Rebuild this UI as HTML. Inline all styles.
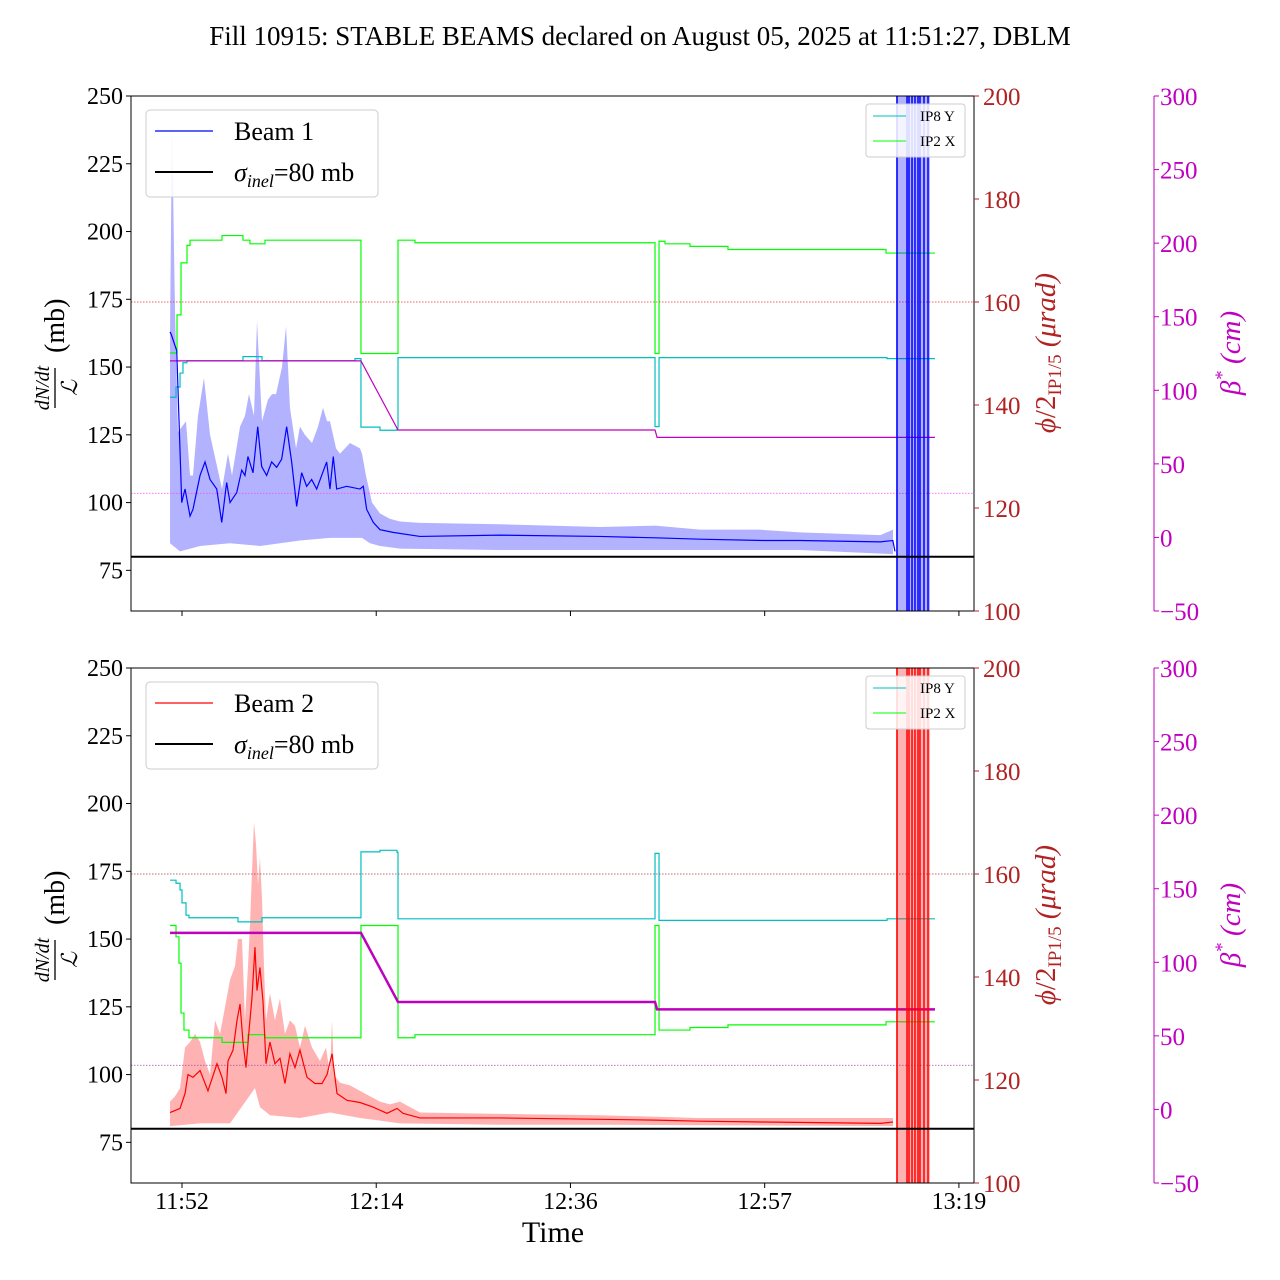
<!DOCTYPE html>
<html><head><meta charset="utf-8">
<style>
html,body{margin:0;padding:0;background:#fff;}
svg{display:block;font-family:"Liberation Serif",serif;}
</style></head>
<body>
<svg id="chart" width="1280" height="1280" viewBox="0 0 1280 1280" xmlns="http://www.w3.org/2000/svg">
<text x="640" y="45" text-anchor="middle" font-size="27">Fill 10915: STABLE BEAMS declared on August 05, 2025 at 11:51:27, DBLM</text>
</svg>
<script>
// ---------- data ----------
const tickMinutes=[0,21.75,43.5,65.25,87];
const tickLabels=["11:52","12:14","12:36","12:57","13:19"];
const leftTicks=[75,100,125,150,175,200,225,250];
const redTicks=[100,120,140,160,180,200];
const magTicks=[-50,0,50,100,150,200,250,300];
const sigmaInel=80;
const refAngle=160;
const refBeta=30;
const dumpStart=79.96, dumpEnd=83.76;
const dumpLines=[80.07,81.19,81.41,81.75,82.08,82.42,82.64,83.09,83.54];

const b1T=[-1.34,-1.2,-0.59,-0.03,0.34,0.9,1.23,2.02,2.58,3.14,3.89,4.45,5.0,5.38,6.13,6.69,7.05,7.39,7.95,8.48,8.92,9.48,10.04,10.6,11.16,11.72,12.28,12.84,13.4,13.96,14.52,15.08,15.64,16.2,16.57,16.94,17.32,18.44,19.93,20.3,20.68,21.42,22.17,23.63,26.65,35.6,46.8,53,58,65.2,69.2,78.2,79.6,79.84];
const b1V=[163,162,156,100,105,95,97.5,110,115,108.5,105,92.7,107.4,100,103.7,112,110,117,111,128,113.3,110,115,113,116,128,115,98.6,111,106,108.5,105,110,115,105,117,105,106,105,106,97.5,92.7,90,89,87.5,88,87.5,87,86.5,86,86,85.5,86,82];
const b1UpT=[-1.34,-1.12,-0.78,-0.45,0,0.45,0.9,1.23,1.79,2.46,3.14,3.81,4.48,5.15,5.6,6.5,7.05,7.5,8.06,8.4,8.96,9.63,10.08,10.53,11.2,11.65,12.09,12.77,13.21,13.77,14.56,15.23,15.79,16.24,16.57,17.25,17.69,18.81,19.93,20.16,20.6,21.28,22.17,23.29,24.41,26.65,35.6,46.8,53,58,64.7,69.2,78.2,79.62];
const b1UpV=[163,240,170,126,128,130,110,110,132,146,125,115,105,118,110,128,132,140,132,167,130,138,140,140,150,165,135,120,128,125,122,128,135,130,130,120,118,122,120,118,110,100,96,94,93,92.5,92,91,91.5,90,90,89,88,90];
const b1LoT=[-1.34,-0.22,2.02,5.38,8.73,13.21,16.57,20.16,21.05,22.17,24.41,35.6,46.8,58,69.2,79.62];
const b1LoV=[85,82,84,85,84,86,87,87,85,84,83,82.5,82.5,82.5,82.5,81];

const b2T=[-1.34,-0.22,0.34,0.67,1.23,2.02,2.91,3.92,4.48,4.93,5.15,5.71,6.16,6.5,6.83,7.17,7.5,7.84,8.17,8.4,8.73,9.07,9.41,9.85,10.41,10.97,11.53,12.09,12.65,13.21,14.0,14.89,15.68,16.24,16.8,17.36,18.48,19.93,21.39,22.96,24.08,24.75,26.65,35.6,46.8,53,58,65.2,78.2,79.62];
const b2V=[86,87.5,93,100,99,101.5,94,104,99,93,105,109,120,126,112,102.6,116,128.5,147,131,139.5,127,104,112,104,106,96.7,107.7,102.6,109,99,96.7,96.7,100,107.7,93,90.5,89.7,88,85.7,87.5,85.7,84,84,83.5,83.2,82.8,82.5,82,82.5];
const b2UpT=[-1.34,-0.78,-0.22,0.34,0.9,1.46,2.02,2.58,3.14,3.7,4.26,4.82,5.38,5.94,6.27,6.72,7.05,7.39,7.61,7.84,8.06,8.29,8.51,8.73,8.96,9.18,9.41,9.85,10.41,10.97,11.53,12.09,12.65,13.21,13.77,14.56,15.45,16.13,16.57,16.8,17.02,17.69,18.81,19.93,21.05,22.17,23.29,24.41,25.53,26.65,35.6,46.8,58,69.2,79.62];
const b2UpV=[90,92,95,110,112,115,112,105,100,120,115,125,135,140,150,150,120,140,155,175,193,185,170,180,165,140,120,130,120,128,115,120,118,110,118,110,105,110,100,120,100,97,96,94,92,90,89,90,88,86,85.5,85,84,84,84];
const b2LoT=[-1.34,2.02,5.38,8.17,8.73,9.85,13.21,16.57,19.93,24.41,35.6,46.8,79.62];
const b2LoV=[81,82,82,95,88,85,84,86,84,82,81.5,81.5,81];

const ipEnd=84.32;
const top8T=[-1.34,-0.67,-0.22,0.11,0.56,6.83,8.96,19.37,20.04,22.17,24.08,24.19,52.97,53.42,78.95];
const top8V=[141.5,143.5,146.2,148.2,148.6,149.4,148.6,149,135.7,135.1,135.5,149.2,135.8,149.2,149];
const top2T=[-1.34,-0.56,-0.11,0.56,0.9,4.48,6.83,7.61,9.29,20.04,24.19,26.09,52.97,53.42,54.09,56.89,61.14,78.84];
const top2V=[150.1,157.5,167.6,171,172,172.9,172,171.3,172,150,172,171.5,150,171.8,171.3,170.8,170.2,169.5];
const bot8T=[-1.34,-0.67,-0.22,0,0.45,0.78,6.27,8.96,20.04,22.17,24.08,24.19,52.97,53.42,78.95];
const bot8V=[158.8,158.2,156.9,154.4,152,151.5,150.7,151.5,164.3,164.6,164.2,151.3,164,151,151.3];
const bot2T=[-1.34,-0.67,-0.34,-0.11,0.22,0.78,4.48,7.39,9.29,20.04,24.19,26.09,52.97,53.42,56.89,61.14,78.84];
const bot2V=[150,147.8,142.7,133,129.7,128.2,127.3,128.8,128.2,150,128.2,128.8,150,129.7,130.2,130.7,131.3];
const betaT=[-1.34,20.04,24.19,52.97,53.2,84.32];
const betaV=[120,120,73,73,68,68];

// ---------- helpers ----------
const NS="http://www.w3.org/2000/svg";
const svg=document.getElementById('chart');
const X0=131,X1=974;
function xs(t){return 182+t*8.93;}
function mk(tag,attrs,parent){const e=document.createElementNS(NS,tag);for(const k in attrs)e.setAttribute(k,attrs[k]);(parent||svg).appendChild(e);return e;}

function panel(cfg){
  const top=cfg.top,bot=cfg.top+515;
  const yl=v=>bot-(v-60)*(515/190);
  const yr=v=>bot-(v-100)*5.15;
  const yb=v=>bot-(v+50)*(515/350);
  const g=mk('g',{});
  
  
  const cid='clip'+cfg.name;
  const cp=mk('clipPath',{id:cid},g);mk('rect',{x:X0,y:top,width:X1-X0,height:515},cp);
  const d=mk('g',{'clip-path':'url(#'+cid+')'},g);
  let pts=cfg.upT.map((t,i)=>xs(t)+','+yl(cfg.upV[i]));
  for(let i=cfg.loT.length-1;i>=0;i--)pts.push(xs(cfg.loT[i])+','+yl(cfg.loV[i]));
  const band=mk('polygon',{points:pts.join(' '),fill:cfg.fill,stroke:'none'},d);
  
  
  function step(T,V,col,nm){let p='M'+xs(T[0])+','+yr(V[0]);for(let i=1;i<T.length;i++){p+=' H'+xs(T[i])+' V'+yr(V[i]);}p+=' H'+xs(ipEnd);const e=mk('path',{d:p,fill:'none',stroke:col,'stroke-width':1.2},d);
    
    }
  step(cfg.g2T,cfg.g2V,'#00ff00','ip2-x-line');
  step(cfg.c8T,cfg.c8V,'#00bfbf','ip8-y-line');
  const bl=mk('polyline',{points:betaT.map((t,i)=>xs(t)+','+yb(betaV[i])).join(' '),fill:'none',stroke:'#bf00bf','stroke-width':cfg.betaW},d);
  
  
  const r1=mk('line',{x1:X0,x2:X1,y1:yr(refAngle),y2:yr(refAngle),stroke:cfg.refCol1,'stroke-width':0.8,'stroke-dasharray':'1.5,1.5'},d);
  
  
  const r2=mk('line',{x1:X0,x2:X1,y1:yb(refBeta),y2:yb(refBeta),stroke:cfg.refCol2,'stroke-width':0.8,'stroke-dasharray':'1.5,1.5'},d);
  
  
  const ln=mk('polyline',{points:cfg.T.map((t,i)=>xs(t)+','+yl(cfg.V[i])).join(' '),fill:'none',stroke:cfg.col,'stroke-width':1.2},d);
  
  
  const dr=mk('rect',{x:xs(dumpStart),y:top,width:xs(dumpEnd)-xs(dumpStart),height:515,fill:cfg.fill},d);
  
  
  dumpLines.forEach(t=>{const l=mk('line',{x1:xs(t),x2:xs(t),y1:top,y2:bot,stroke:cfg.col,'stroke-width':1.5},d);
    
    });
  const sl=mk('line',{x1:X0,x2:X1,y1:yl(sigmaInel),y2:yl(sigmaInel),stroke:'#000','stroke-width':2},d);
  
  
  mk('rect',{x:X0,y:top,width:X1-X0,height:515,fill:'none',stroke:'#000','stroke-width':1},g);
  leftTicks.forEach(v=>{const y=yl(v);mk('line',{x1:X0-5,x2:X0,y1:y,y2:y,stroke:'#000'},g);
    const t=mk('text',{x:X0-8,y:y+8,'text-anchor':'end','font-size':24},g);t.textContent=v;
    
    });
  redTicks.forEach(v=>{const y=yr(v);mk('line',{x1:X1,x2:X1+5,y1:y,y2:y,stroke:'#b22222'},g);
    const t=mk('text',{x:X1+9,y:y+9,'font-size':25,fill:'#b22222'},g);t.textContent=v;
    
    });
  mk('line',{x1:1154,x2:1154,y1:top,y2:bot,stroke:'#bf00bf'},g);
  magTicks.forEach(v=>{const y=yb(v);mk('line',{x1:1154,x2:1159,y1:y,y2:y,stroke:'#bf00bf'},g);
    const t=mk('text',{x:1160,y:y+9,'font-size':25,fill:'#bf00bf'},g);t.textContent=(v<0?'\u2212'+(-v):v);
    
    });
  tickMinutes.forEach((m,i)=>{const x=xs(m);mk('line',{x1:x,x2:x,y1:bot,y2:bot+5,stroke:'#000'},g);
    if(cfg.xlabels){const t=mk('text',{x:x,y:bot+26,'text-anchor':'middle','font-size':24},g);t.textContent=tickLabels[i];
      
      }});
  const cy=top+257;
  const yg=mk('g',{transform:'translate(55,'+cy+') rotate(-90)'},g);
  
  
  let t=mk('text',{x:-35,y:-6,'text-anchor':'middle','font-size':20,'font-style':'italic'},yg);t.textContent='dN/dt';
  mk('line',{x1:-55,x2:-15,y1:0,y2:0,stroke:'#000','stroke-width':1.3},yg);
  t=mk('text',{x:-35,y:22,'text-anchor':'middle','font-size':22,'font-style':'italic'},yg);t.textContent='\u2112';
  t=mk('text',{x:0,y:9,'font-size':28},yg);t.textContent='(mb)';
  const rg=mk('g',{transform:'translate(1055,'+cy+') rotate(-90)'},g);
  
  
  t=mk('text',{x:0,y:0,'text-anchor':'middle','font-size':29,fill:'#b22222'},rg);
  t.innerHTML='<tspan font-style="italic">\u03d5</tspan>/2<tspan font-size="19" dy="6">IP1/5</tspan><tspan dy="-6" font-style="italic"> (\u03bcrad)</tspan>';
  const mg=mk('g',{transform:'translate(1240,'+cy+') rotate(-90)'},g);
  
  
  t=mk('text',{x:0,y:0,'text-anchor':'middle','font-size':29,fill:'#bf00bf','font-style':'italic'},mg);
  t.innerHTML='\u03b2<tspan font-size="19" dy="-12">*</tspan><tspan dy="12"> (cm)</tspan>';
  const lg=mk('g',{},g);
  
  
  mk('rect',{x:146,y:top+14,width:232,height:87,rx:4,fill:'#fff','fill-opacity':0.85,stroke:'#ccc'},lg);
  mk('line',{x1:155,x2:213,y1:top+35,y2:top+35,stroke:cfg.col,'stroke-width':1.3},lg);
  t=mk('text',{x:234,y:top+44,'font-size':26},lg);t.textContent=cfg.label;
  mk('line',{x1:155,x2:213,y1:top+76,y2:top+76,stroke:'#000','stroke-width':2},lg);
  t=mk('text',{x:234,y:top+85,'font-size':26},lg);t.innerHTML='<tspan font-style="italic">\u03c3</tspan><tspan font-size="18" dy="6" font-style="italic">inel</tspan><tspan dy="-6">=80 mb</tspan>';
  const sg=mk('g',{},g);
  
  
  mk('rect',{x:866,y:top+8,width:99,height:53,rx:3,fill:'#fff','fill-opacity':0.85,stroke:'#ccc'},sg);
  mk('line',{x1:873,x2:906,y1:top+20,y2:top+20,stroke:'#00bfbf'},sg);
  t=mk('text',{x:920,y:top+25,'font-size':15},sg);t.textContent='IP8 Y';
  mk('line',{x1:873,x2:906,y1:top+45,y2:top+45,stroke:'#00ff00'},sg);
  t=mk('text',{x:920,y:top+50,'font-size':15},sg);t.textContent='IP2 X';
}

panel({name:'beam1-panel',beam:'beam1',top:96,T:b1T,V:b1V,upT:b1UpT,upV:b1UpV,loT:b1LoT,loV:b1LoV,col:'#0000ff',fill:'rgba(0,0,255,0.3)',
  c8T:top8T,c8V:top8V,g2T:top2T,g2V:top2V,betaW:1.2,refCol1:'#e03030',refCol2:'#ff40ff',label:'Beam 1',xlabels:false});
panel({name:'beam2-panel',beam:'beam2',top:668,T:b2T,V:b2V,upT:b2UpT,upV:b2UpV,loT:b2LoT,loV:b2LoV,col:'#ff0000',fill:'rgba(255,0,0,0.3)',
  c8T:bot8T,c8V:bot8V,g2T:bot2T,g2V:bot2V,betaW:2.5,refCol1:'#a04040',refCol2:'#b040b0',label:'Beam 2',xlabels:true});

const xt=mk('text',{x:553,y:1242,'text-anchor':'middle','font-size':30});
xt.textContent='Time';


</script>
</body></html>
